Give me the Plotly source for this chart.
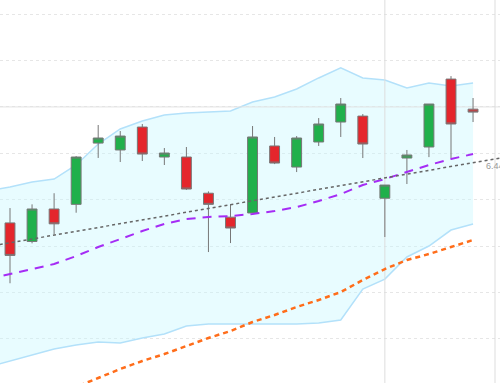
import plotly.graph_objects as go

# ---- data ----
candle_x = list(range(22))
opens  = [6.375, 6.355, 6.390, 6.395, 6.461, 6.4536, 6.4783, 6.446, 6.446, 6.407, 6.3812,
          6.3857, 6.4579, 6.4352, 6.4622, 6.4837, 6.4901, 6.4016, 6.4449, 6.4568, 6.530, 6.4976]
highs  = [6.391, 6.395, 6.407, 6.447, 6.4805, 6.474, 6.4816, 6.4557, 6.4568, 6.409, 6.3953,
          6.4794, 6.4676, 6.4686, 6.488, 6.5096, 6.4923, 6.4158, 6.4536, 6.5031, 6.5332, 6.5096]
lows   = [6.310, 6.353, 6.363, 6.386, 6.445, 6.4406, 6.4417, 6.4374, 6.4105, 6.3436, 6.3533,
          6.3857, 6.4384, 6.4298, 6.4579, 6.4676, 6.4449, 6.3598, 6.4169, 6.4459, 6.4449, 6.4837]
closes = [6.340, 6.390, 6.374, 6.446, 6.4665, 6.4686, 6.4492, 6.4503, 6.4115, 6.395, 6.3695,
          6.4676, 6.4395, 6.4665, 6.4816, 6.5031, 6.460, 6.4158, 6.4482, 6.5031, 6.4816, 6.4944]

band_x = list(range(-1, 22))
bb_upper = [6.4094, 6.4137, 6.4191, 6.4223, 6.4374, 6.46, 6.4762, 6.4848, 6.4913, 6.4934, 6.4945,
            6.4956, 6.5053, 6.5107, 6.5193, 6.5312, 6.542, 6.5312, 6.529, 6.5204, 6.5258, 6.5225, 6.5258]
bb_lower = [6.2197, 6.2262, 6.2326, 6.2391, 6.2434, 6.2467, 6.2456, 6.251, 6.2553, 6.2639, 6.2661,
            6.2661, 6.2661, 6.2661, 6.2661, 6.2672, 6.2704, 6.3038, 6.3145, 6.3383, 6.3501, 6.3673, 6.3738]
bb_middle = [6.3145, 6.3199, 6.3253, 6.3307, 6.3393, 6.349, 6.3576, 6.3663, 6.3738, 6.3792, 6.3814,
             6.3824, 6.3846, 6.3878, 6.3921, 6.3986, 6.4061, 6.4158, 6.4223, 6.4298, 6.4374, 6.4439, 6.4492]

slow_ma_x = list(range(2, 22))
slow_ma = [6.1895, 6.1982, 6.2079, 6.2176, 6.2262, 6.2337, 6.2423, 6.251, 6.2585, 6.2682,
           6.2758, 6.2844, 6.2919, 6.3005, 6.3135, 6.3253, 6.335, 6.3415, 6.349, 6.3566]

trend_x = [-1, 23]
trend_y = [6.3495, 6.4481]
trend_label = "6.44"
trend_label_y = 6.4363

crosshair_x = 17
crosshair_y = 6.50

X_RANGE = [-0.4535, 22.222]
Y_RANGE = [6.2025, 6.6152]

fig = go.Figure()

# Bollinger band (bottom subplot)
fig.add_trace(go.Scatter(x=band_x, y=bb_upper, mode="lines", yaxis="y",
                         line=dict(color="#b3e1fa", width=1.5), hoverinfo="skip"))
fig.add_trace(go.Scatter(x=band_x, y=bb_lower, mode="lines", fill="tonexty", yaxis="y",
                         fillcolor="rgba(200,248,255,0.42)",
                         line=dict(color="#b3e1fa", width=1.5), hoverinfo="skip"))

# crosshair (middle subplot)
fig.add_trace(go.Scatter(x=[crosshair_x, crosshair_x], y=[6.0, 7.0], mode="lines", yaxis="y2",
                         line=dict(color="#dddddd", width=1), hoverinfo="skip"))
fig.add_trace(go.Scatter(x=[-2, 25], y=[crosshair_y, crosshair_y], mode="lines", yaxis="y2",
                         line=dict(color="#e2e2e2", width=1), hoverinfo="skip"))

# candles (top subplot)
fig.add_trace(go.Candlestick(
    x=candle_x, open=opens, high=highs, low=lows, close=closes, yaxis="y3",
    increasing=dict(line=dict(color="#777777", width=1), fillcolor="#20b04b"),
    decreasing=dict(line=dict(color="#777777", width=1), fillcolor="#e4262c"),
    whiskerwidth=0, hoverinfo="skip"))

# middle band / slow MA / trend (top subplot, above candles)
fig.add_trace(go.Scatter(x=band_x, y=bb_middle, mode="lines", yaxis="y3",
                         line=dict(color="#a52cf5", width=2, dash="9px,7px"), hoverinfo="skip"))
fig.add_trace(go.Scatter(x=slow_ma_x, y=slow_ma, mode="lines", yaxis="y3",
                         line=dict(color="#ff6d1a", width=2.5, dash="5px,4px"), hoverinfo="skip"))
fig.add_trace(go.Scatter(x=trend_x, y=trend_y, mode="lines", yaxis="y3",
                         line=dict(color="#666666", width=1.5, dash="3px,3px"), hoverinfo="skip"))

# right border
fig.add_shape(type="line", xref="paper", yref="paper", x0=0.99, x1=0.99, y0=0, y1=1,
              line=dict(color="#dddddd", width=1))

fig.add_annotation(xref="paper", yref="y", x=0.968, y=trend_label_y, text=trend_label,
                   showarrow=False, xanchor="left", yanchor="middle",
                   font=dict(family="Liberation Sans, Arial", size=9, color="#999999"))

hidden_y = dict(range=Y_RANGE, showgrid=False, zeroline=False, showticklabels=False,
                showline=False, fixedrange=True, overlaying="y")

fig.update_layout(
    width=500, height=383, margin=dict(l=0, r=0, t=0, b=0, pad=0),
    paper_bgcolor="white", plot_bgcolor="white",
    showlegend=False, hovermode=False, boxgap=0.36,
    xaxis=dict(range=X_RANGE, showgrid=False, zeroline=False,
               showticklabels=False, showline=False, rangeslider=dict(visible=False), fixedrange=True),
    yaxis=dict(range=Y_RANGE, showgrid=True, gridcolor="#e6e6e6", griddash="3px,3px",
               gridwidth=1, tick0=6.45, dtick=0.05, zeroline=False, showticklabels=False,
               showline=False, fixedrange=True),
    yaxis2=hidden_y,
    yaxis3=hidden_y,
)

fig.write_html("out.html", config={"displayModeBar": False, "staticPlot": True},
               post_script="document.body.style.margin='0';document.body.style.overflow='hidden';")
